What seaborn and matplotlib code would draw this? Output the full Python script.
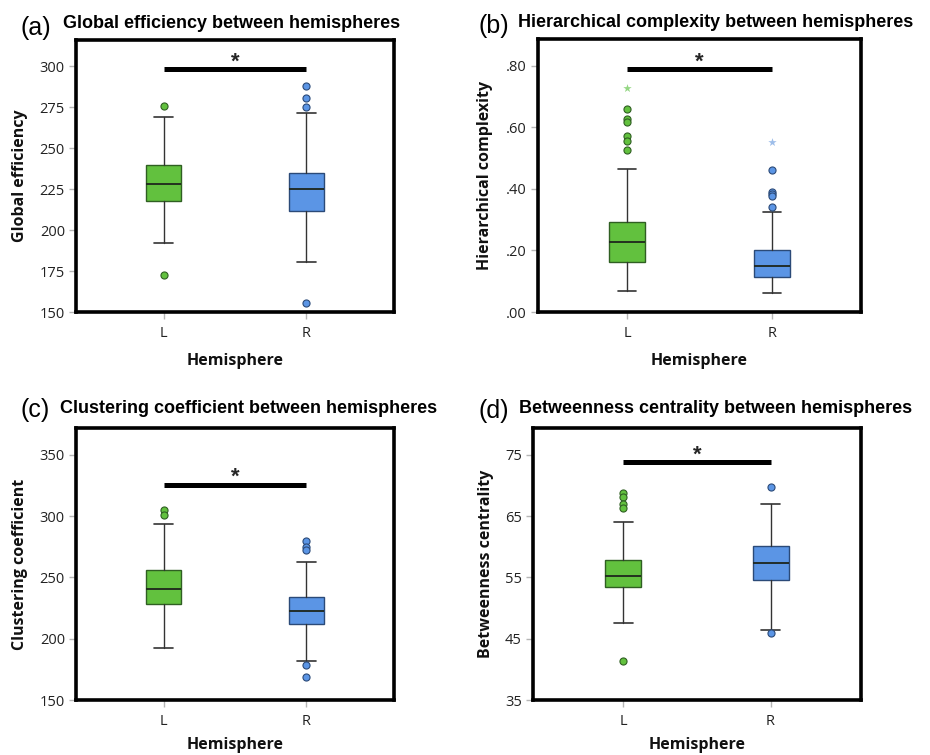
import numpy as np
import pandas as pd
import matplotlib
matplotlib.use('Agg')
import matplotlib.pyplot as plt
import seaborn as sns

sns.set_style('white')
plt.rcParams['font.family'] = ['Open Sans', 'DejaVu Sans']

hemispheres = ['L', 'R']
fill_colors = {'L': '#62c13e', 'R': '#5b95e5'}
edge_colors = {'L': '#2f5f22', 'R': '#2b4a78'}
star_colors = {'L': '#94d783', 'R': '#9dbde9'}

# box summaries per hemisphere: whisker low, Q1, median, Q3, whisker high
ge_box = [[192.0, 217.6, 228.0, 240.0, 269.0], [180.7, 211.5, 225.3, 235.0, 271.3]]
ge_out = [[276.0, 172.8], [287.8, 280.5, 275.2, 155.3]]
ge_ext = [[], []]

hc_box = [[0.068, 0.163, 0.229, 0.293, 0.466], [0.062, 0.114, 0.150, 0.202, 0.325]]
hc_out = [[0.659, 0.627, 0.616, 0.572, 0.555, 0.525], [0.461, 0.391, 0.384, 0.377, 0.342]]
hc_ext = [[0.727], [0.551]]

cc_box = [[192.2, 228.2, 240.7, 256.3, 293.6], [181.6, 212.1, 222.8, 234.2, 263.0]]
cc_out = [[305.2, 300.8], [280.0, 274.6, 272.5, 178.3, 168.8]]
cc_ext = [[], []]

bc_box = [[47.6, 53.4, 55.3, 57.9, 64.0], [46.4, 54.6, 57.3, 60.1, 67.0]]
bc_out = [[68.8, 68.1, 67.0, 66.3, 41.4], [69.8, 45.9]]
bc_ext = [[], []]

panels = [
    dict(tag='(a)', title='Global efficiency between hemispheres', ylabel='Global efficiency',
         box=ge_box, out=ge_out, ext=ge_ext, ylim=(150, 316), yticks=np.arange(150, 301, 25),
         fmt='{:.0f}', sig=298, rect=[76, 40, 394, 312], tx=(20, 63), ty=(35, 28), ylx=20, xly=41),
    dict(tag='(b)', title='Hierarchical complexity between hemispheres', ylabel='Hierarchical complexity',
         box=hc_box, out=hc_out, ext=hc_ext, ylim=(0, 0.887), yticks=np.arange(0, 0.81, 0.2),
         fmt='dot', sig=0.789, rect=[538, 39, 861, 312], tx=(478, 518), ty=(33, 27), ylx=485, xly=41),
    dict(tag='(c)', title='Clustering coefficient between hemispheres', ylabel='Clustering coefficient',
         box=cc_box, out=cc_out, ext=cc_ext, ylim=(150, 372), yticks=np.arange(150, 351, 50),
         fmt='{:.0f}', sig=325.8, rect=[76, 428, 394, 700], tx=(21, 60), ty=(417, 413), ylx=20, xly=37),
    dict(tag='(d)', title='Betweenness centrality between hemispheres', ylabel='Betweenness centrality',
         box=bc_box, out=bc_out, ext=bc_ext, ylim=(35, 79.4), yticks=np.arange(35, 76, 10),
         fmt='{:.0f}', sig=73.8, rect=[533, 428, 861, 700], tx=(479, 519), ty=(418, 413), ylx=486, xly=37),
]

W, H = 930, 755
fig = plt.figure(figsize=(W / 100, H / 100), dpi=100)

for p in panels:
    x0, y0, x1, y1 = p['rect']
    ax = fig.add_axes([x0 / W, 1 - y1 / H, (x1 - x0) / W, (y1 - y0) / H])

    stats = []
    for i, h in enumerate(hemispheres):
        lo, q1, med, q3, hi = p['box'][i]
        stats.append(dict(whislo=lo, q1=q1, med=med, q3=q3, whishi=hi, fliers=[], label=h))
    bp = ax.bxp(stats, positions=[0, 1], widths=0.245, capwidths=0.13, patch_artist=True,
                showfliers=False,
                whiskerprops=dict(color='#333333', lw=1.0),
                capprops=dict(color='#333333', lw=1.2),
                medianprops=dict(color='#1e261c', lw=1.3))
    for patch, h in zip(bp['boxes'], hemispheres):
        patch.set_facecolor(fill_colors[h])
        patch.set_edgecolor(edge_colors[h])
        patch.set_linewidth(1.0)

    # outliers (circles) and extreme outliers (stars)
    for i, h in enumerate(hemispheres):
        df = pd.DataFrame({'pos': [i] * len(p['out'][i]), 'value': p['out'][i]})
        if len(df):
            sns.scatterplot(data=df, x='pos', y='value', ax=ax, color=fill_colors[h],
                            edgecolor=edge_colors[h], linewidth=0.8, s=26, zorder=3, legend=False)
        de = pd.DataFrame({'pos': [i] * len(p['ext'][i]), 'value': p['ext'][i]})
        if len(de):
            sns.scatterplot(data=de, x='pos', y='value', ax=ax, color=star_colors[h],
                            marker='*', s=40, linewidth=0, zorder=3, legend=False)

    # significance bar
    ax.plot([0, 1], [p['sig'], p['sig']], color='black', lw=3.6, solid_capstyle='butt')
    ax.annotate('*', xy=(0.5, p['sig']), xytext=(0, 1), textcoords='offset points',
                ha='center', va='baseline', fontsize=16, fontweight='bold',
                family=['Liberation Sans', 'DejaVu Sans'])

    ax.set_xlim(-0.615, 1.615)
    ax.set_ylim(*p['ylim'])
    ax.set_xticks([0, 1])
    ax.set_xticklabels(hemispheres)
    ax.set_yticks(p['yticks'])
    if p['fmt'] == 'dot':
        ax.set_yticklabels(['.{:02d}'.format(int(round(v * 100))) for v in p['yticks']])
    else:
        ax.set_yticklabels([p['fmt'].format(v) for v in p['yticks']])
    ax.tick_params(axis='both', left=True, bottom=True, length=5, width=1, color='#b5b5b5',
                   labelsize=10.5, labelcolor='#222222')
    ax.tick_params(axis='x', pad=5)
    ax.tick_params(axis='y', pad=3)
    for s in ax.spines.values():
        s.set_color('black')
        s.set_linewidth(2.6)

    ax.set_xlabel('Hemisphere', fontsize=11.5, fontweight='bold', color='#111111')
    ax.set_ylabel(p['ylabel'], fontsize=11.5, fontweight='bold', color='#111111')
    ax.xaxis.set_label_coords(0.5, -p['xly'] / (y1 - y0))
    ax.yaxis.set_label_coords((p['ylx'] - x0) / (x1 - x0), 0.5)
    ax.yaxis.label.set_va('center')

    fig.text(p['tx'][0] / W, 1 - p['ty'][0] / H, p['tag'], fontsize=18, color='black',
             family=['Liberation Sans', 'DejaVu Sans'], va='baseline', ha='left')
    fig.text(p['tx'][1] / W, 1 - p['ty'][1] / H, p['title'], fontsize=13, fontweight='bold',
             color='black', family=['Liberation Sans', 'DejaVu Sans'], va='baseline', ha='left')

fig.savefig('out.png', dpi=100)
